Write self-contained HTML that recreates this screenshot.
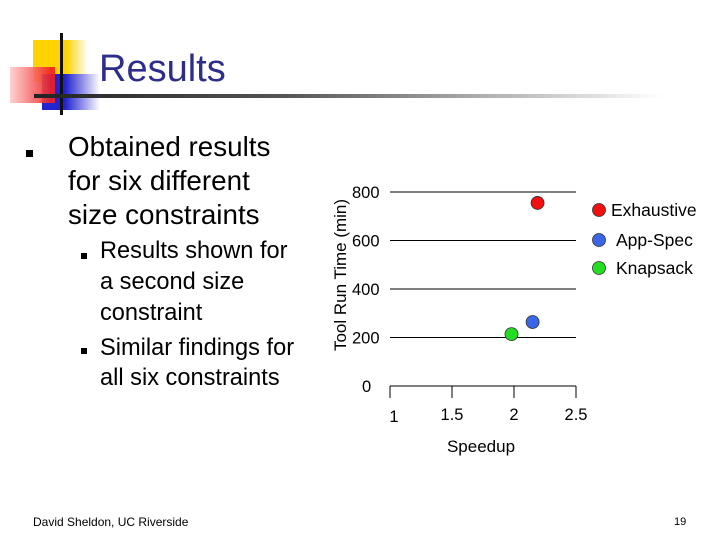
<!DOCTYPE html>
<html><head><meta charset="utf-8"><style>
body{margin:0;width:720px;height:540px;background:#fff;overflow:hidden;font-family:"Liberation Sans",sans-serif;position:relative}
.abs{position:absolute}
</style></head><body>
<div class="abs" style="left:0;top:0;width:100px;height:120px">
 <div class="abs" style="left:33px;top:40px;width:55px;height:42px;background:linear-gradient(90deg,#ffd200 60%,#fff)"></div>
 <div class="abs" style="left:42px;top:74px;width:58px;height:36px;background:linear-gradient(90deg,#2323d0 40%,#fff)"></div>
 <div class="abs" style="left:10px;top:67px;width:45px;height:36px;background:linear-gradient(90deg,#fcc 0%,#f02020 90%);opacity:.9"></div>
 <div class="abs" style="left:60px;top:33px;width:3px;height:82px;background:#111"></div>
</div>
<div class="abs" style="left:34px;top:94px;width:630px;height:4px;background:linear-gradient(90deg,#222,#555 40%,#fff)"></div>
<div class="abs" style="left:99px;top:48px;font-size:38px;color:#2e2e8a">Results</div>
<div class="abs" style="left:26px;top:150px;width:7px;height:7px;background:#000"></div>
<div class="abs" style="left:68px;top:130px;font-size:27.8px;line-height:34px">Obtained results<br>for six different<br>size constraints</div>
<div class="abs" style="left:81px;top:253px;width:6px;height:6px;background:#000"></div>
<div class="abs" style="left:100px;top:236px;font-size:23.6px;line-height:31px">Results shown for<br>a second size<br>constraint</div>
<div class="abs" style="left:81px;top:348px;width:6px;height:6px;background:#000"></div>
<div class="abs" style="left:100px;top:333px;font-size:23.6px;line-height:30px">Similar findings for<br>all six constraints</div>
<div class="abs" style="left:33px;top:515px;font-size:12px">David Sheldon, UC Riverside</div>
<div class="abs" style="left:674px;top:516px;font-size:11px">19</div>
<svg class="abs" id="chart" style="left:0;top:0" width="720" height="540"></svg>
<script>
const yTicks=[0,200,400,600,800];
const xTicks=[1,1.5,2,2.5];
const seriesNames=["Exhaustive","App-Spec","Knapsack"];
const seriesColors=["#f01010","#3a66e8","#22dd22"];
const speedup=[2.19,2.15,1.98];
const runTime=[755,264,214];
const NS="http://www.w3.org/2000/svg";
const svg=document.getElementById('chart');
const X=v=>390+(v-1)/1.5*186;
const Y=v=>386-v/200*48.5;
function mk(t,a,txt){const e=document.createElementNS(NS,t);for(const k in a)e.setAttribute(k,a[k]);if(txt!==undefined)e.textContent=txt;svg.appendChild(e);return e;}
yTicks.forEach(v=>{
 if(v>0){const l=mk('line',{x1:X(1),x2:X(2.5),y1:Y(v),y2:Y(v),stroke:'#000','stroke-width':1});
 
 }
 const t=mk('text',{x:(v==0?362:352),y:Y(v)+6,'font-size':16.5,'font-family':'Liberation Sans, sans-serif'},v);
 
 
});
const ax=mk('line',{x1:X(1),x2:X(2.5),y1:Y(0),y2:Y(0),stroke:'#000'});


xTicks.forEach(v=>{
 const l=mk('line',{x1:X(v),x2:X(v),y1:Y(0),y2:Y(0)+12,stroke:'#000'});
 
 
 const t=mk('text',{x:X(v)+(v==1?4:0),y:Y(0)+(v==1?36:34),'font-size':16.5,'text-anchor':'middle','font-family':'Liberation Sans, sans-serif'},v);
 
 
});
const xt=mk('text',{x:481,y:452,'font-size':17,'text-anchor':'middle','font-family':'Liberation Sans, sans-serif'},'Speedup');


const yt=mk('text',{x:0,y:0,'font-size':17,'text-anchor':'middle','font-family':'Liberation Sans, sans-serif',transform:'translate(346,275) rotate(-90)'},'Tool Run Time (min)');


seriesNames.forEach((n,i)=>{
 const c=mk('circle',{cx:X(speedup[i]),cy:Y(runTime[i]),r:6.5,fill:seriesColors[i],stroke:'#333','stroke-width':0.8});
 
 
 const ly=[210,240,268][i];
 const m=mk('circle',{cx:599,cy:ly,r:6.5,fill:seriesColors[i],stroke:'#333','stroke-width':0.8});
 
 
 const t=mk('text',{x:i==0?611:616,y:ly+6,'font-size':17.5,'font-family':'Liberation Sans, sans-serif'},n);
 
 
});
</script>
</body></html>
